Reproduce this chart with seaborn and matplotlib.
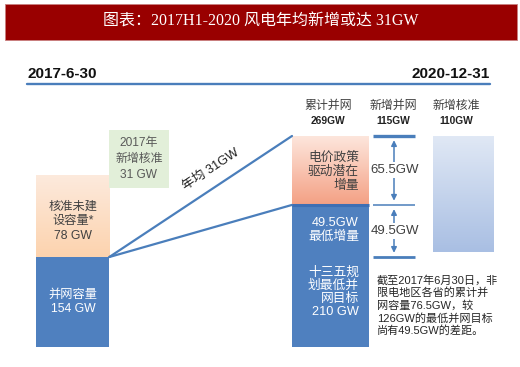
import numpy as np
import matplotlib
matplotlib.use("Agg")
import matplotlib.pyplot as plt
import seaborn as sns
from matplotlib.colors import LinearSegmentedColormap
from matplotlib.patches import Rectangle

# --- Data (GW) ---
left_parts = ["并网容量", "核准未建设容量*"]
left_values = [154, 78]            # 2017-6-30
approved_2017 = 31                 # 2017年新增核准
right_parts = ["最低增量", "电价政策驱动潜在增量"]
right_values = [49.5, 65.5]        # added on top of 154 by 2020-12-31
col_titles = ["累计并网", "新增并网", "新增核准"]
col_values = [269, 115, 110]
target_13th = 210                  # 十三五规划最低并网目标
annual_avg = 31
note_values = [76.5, 126, 49.5]

BLUE = "#4f80bf"
LINE = "#4a7ebb"
TXT = "#404040"

sns.set_theme(style="white")
plt.rcParams["font.family"] = ["Liberation Sans", "Noto Sans CJK SC"]

fig = plt.figure(figsize=(5.2, 3.67), dpi=100)
# bar axes: bottom edge at pixel 347, top at pixel 60 (truncated value axis)
bx = fig.add_axes([0, 20 / 367, 1, 287 / 367])
ov = fig.add_axes([0, 0, 1, 1])
ov.set_xlim(0, 520)
ov.set_ylim(367, 0)
ov.axis("off")
YLIM = (68.5, 341.2)


def draw_bar(center, value, width, color, bottom=0, z=2):
    sns.barplot(x=[center], y=[value], native_scale=True, width=width, color=color,
                saturation=1, errorbar=None, bottom=bottom, linewidth=0, zorder=z, ax=bx)
    return bx.patches[-1]


def shade(patch, lo, hi, top_color, bottom_color):
    cmap = LinearSegmentedColormap.from_list("g", [bottom_color, top_color])
    x0, w = patch.get_x(), patch.get_width()
    im = bx.imshow(np.linspace(0, 1, 100).reshape(-1, 1), cmap=cmap, origin="lower",
                   extent=[x0, x0 + w, lo, hi], aspect="auto", zorder=2.5)
    im.set_clip_path(patch)


base = left_values[0]
left_total = sum(left_values)
blue_top = base + right_values[0]
total = base + sum(right_values)

# left stacked bar (2017-6-30)
lo_bar = draw_bar(72.5, left_total, 73.6, "#fcd8b8")
shade(lo_bar, base, left_total, "#fdeadd", "#fcd3ae")
lb_bar = draw_bar(72.5, base, 73.6, BLUE, z=3)

# right stacked bar (累计并网)
ro_bar = draw_bar(330.5, total, 77, "#f5a98e")
shade(ro_bar, blue_top, total, "#fde6dc", "#f4a084")
rb_bar = draw_bar(330.5, blue_top, 77, BLUE, z=3)
bx.hlines(blue_top, rb_bar.get_x(), rb_bar.get_x() + rb_bar.get_width(),
          color="#3f6fb3", lw=2.2, zorder=3.5)

# new approvals bar
na_bar = draw_bar(463.5, col_values[2], 61, "#c5d5ee", bottom=col_values[0] - col_values[2])
shade(na_bar, col_values[0] - col_values[2], col_values[0], "#e0e8f5", "#a9bfe3")

# middle column: new grid capacity split
mid_x, mid_w = 394, 42
bx.hlines([total, blue_top, base], mid_x - mid_w / 2, mid_x + mid_w / 2,
          color=LINE, lw=[2.4, 1.1, 2.0], zorder=3)
for lo, hi in [(blue_top, total), (base, blue_top)]:
    bx.annotate("", xy=(mid_x, hi), xytext=(mid_x, lo),
                arrowprops=dict(arrowstyle="<|-|>", color=LINE, lw=1.1,
                                shrinkA=3, shrinkB=3, mutation_scale=8), zorder=3)
    bx.text(mid_x + 1, (lo + hi) / 2, f"{hi - lo:g}GW", ha="center", va="center",
            fontsize=9.5, color=TXT, zorder=4,
            bbox=dict(boxstyle="square,pad=0.15", fc="white", ec="none"))

# connecting lines
x_from = lb_bar.get_x() + lb_bar.get_width()
x_to = rb_bar.get_x()
bx.plot([x_from, x_to], [base, total], color=LINE, lw=1.6, zorder=3)
bx.plot([x_from, x_to], [base, blue_top], color=LINE, lw=1.6, zorder=3)

bx.set_xlim(0, 520)
bx.set_ylim(*YLIM)
bx.axis("off")

# slope label angle in screen space
fig.canvas.draw()
p0 = bx.transData.transform((x_from, base))
p1 = bx.transData.transform((x_to, total))
ang = np.degrees(np.arctan2(p1[1] - p0[1], p1[0] - p0[0]))
ov.text(211, 170, f"年均 {annual_avg}GW", rotation=ang, ha="center", va="center",
        fontsize=9.2, color="#1f1f1f", rotation_mode="anchor")

# --- Title banner ---
ov.add_patch(Rectangle((5, 4), 512, 36, fc="#990000", ec="#c98080", lw=0.6))
ov.text(261, 22, "图表：2017H1-2020 风电年均新增或达 31GW", ha="center", va="center",
        color="white", fontsize=11.5, family=["Liberation Serif", "Noto Sans CJK SC"])

# timeline
ov.plot([27, 490], [84, 84], color=LINE, lw=1.7)
ov.text(28, 74, "2017-6-30", ha="left", va="center", fontsize=11, fontweight="bold", color="#111111")
ov.text(490, 74, "2020-12-31", ha="right", va="center", fontsize=11, fontweight="bold", color="#111111")

# column headers
for cx, name, val in zip([328, 393, 456], col_titles, col_values):
    ov.text(cx, 106, name, ha="center", va="center", fontsize=8.6, color=TXT)
    ov.text(cx, 121, f"{val}GW", ha="center", va="center", fontsize=7.4, fontweight="bold", color="#222222")

# green callout
ov.text(139, 159, f"2017年\n新增核准\n{approved_2017} GW", ha="center", va="center",
        fontsize=8.6, color="#595959", linespacing=1.45,
        bbox=dict(boxstyle="square,pad=0.55", fc="#e2efd9", ec="none"))

# left bar labels
ov.text(73, 221, f"核准未建\n设容量*\n{left_values[1]} GW", ha="center", va="center",
        fontsize=8.8, color=TXT, linespacing=1.3)
ov.text(73, 302, f"{left_parts[0]}\n{left_values[0]} GW", ha="center", va="center",
        fontsize=8.8, color="white", linespacing=1.3)

# right bar labels
ov.text(359, 172, "电价政策\n驱动潜在\n增量", ha="right", va="center",
        fontsize=9.2, color=TXT, linespacing=1.2)
ov.text(359, 230, f"{right_values[0]}GW\n{right_parts[0]}", ha="right", va="center",
        fontsize=9.2, color="white", linespacing=1.2)
ov.text(359, 292, f"十三五规\n划最低并\n网目标\n{target_13th} GW", ha="right", va="center",
        fontsize=9.2, color="white", linespacing=1.12)

# note
ov.text(377, 275, f"截至2017年6月30日，非\n限电地区各省的累计并\n网容量{note_values[0]}GW，较\n"
        f"{note_values[1]}GW的最低并网目标\n尚有{note_values[2]}GW的差距。",
        ha="left", va="top", fontsize=8, color="#262626", linespacing=1.22)

fig.savefig("out.png", dpi=100)
